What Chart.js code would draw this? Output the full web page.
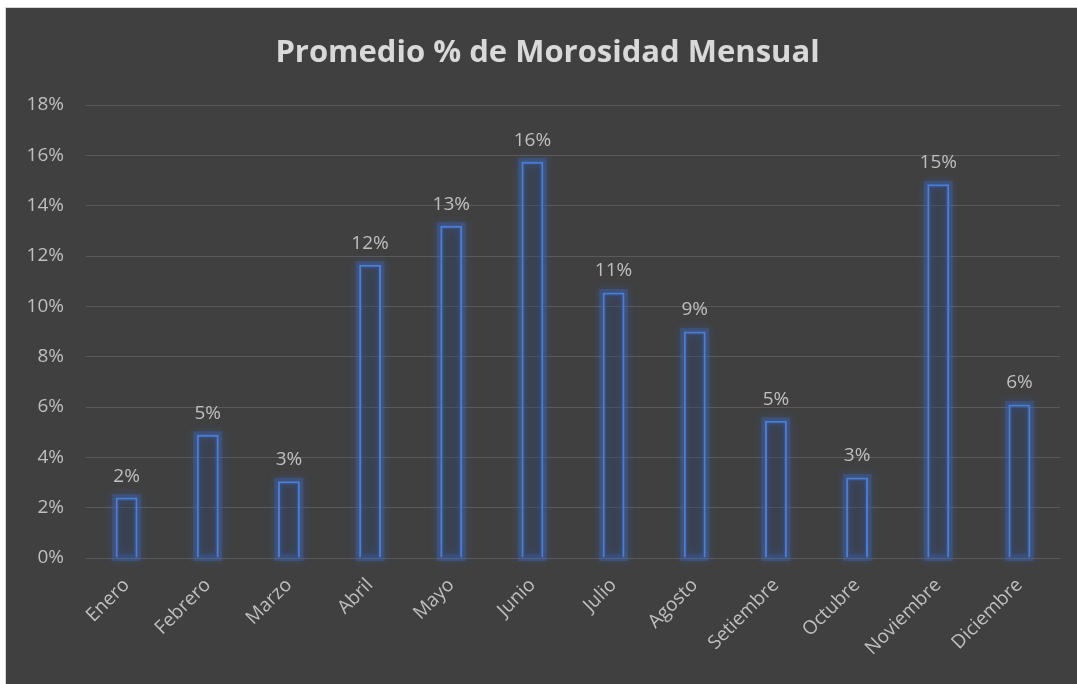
<!DOCTYPE html>
<html>
<head>
<meta charset="utf-8">
<script src="https://cdn.jsdelivr.net/npm/chart.js@4.4.1/dist/chart.umd.min.js"></script>
<style>
  html, body { margin: 0; padding: 0; background: #ffffff; }
  #wrap {
    position: absolute; left: 5px; top: 7px;
    width: 1071px; height: 676px;
    background: #404040;
    border-top: 1px solid #d4d4d4; border-left: 1px solid #d4d4d4;
  }
</style>
</head>
<body>
<div id="wrap"><canvas id="chart"></canvas></div>
<script>
const months = ["Enero", "Febrero", "Marzo", "Abril", "Mayo", "Junio", "Julio",
    "Agosto", "Setiembre", "Octubre", "Noviembre", "Diciembre"];
const morosidad = [2.4, 4.9, 3.05, 11.65, 13.2, 15.75, 10.55, 9.0, 5.45, 3.2, 14.85, 6.1];
const yTicks = [0, 2, 4, 6, 8, 10, 12, 14, 16, 18];
const chartTitle = "Promedio % de Morosidad Mensual";

const textGray = "#bfbfbf";
const fontFamily = "'Open Sans', 'Noto Sans', sans-serif";

// title drawn by hand: Excel centres it on the whole chart, slightly right of the plot centre
const titlePlugin = {
    id: "sheetTitle",
    afterDraw(chart) {
        const ctx = chart.ctx;
        ctx.save();
        ctx.fillStyle = "#d9d9d9";
        ctx.font = "bold 31px " + fontFamily;
        ctx.textAlign = "center";
        ctx.textBaseline = "middle";
        ctx.fillText(chartTitle, chart.width / 2 + 6, 45);
        ctx.restore();
    },
};

// soft blue glow around the bars, drawn from the bar elements themselves
const glowPlugin = {
    id: "glow",
    beforeDatasetsDraw(chart) {
        const ctx = chart.ctx;
        const meta = chart.getDatasetMeta(0);
        ctx.save();
        ctx.shadowColor = "rgba(60, 110, 210, 0.9)";
        ctx.shadowBlur = 9;
        ctx.strokeStyle = "rgba(60, 110, 210, 0.3)";
        ctx.lineWidth = 7;
        meta.data.forEach((bar) => {
            const half = bar.width / 2;
            ctx.strokeRect(bar.x - half, bar.y, bar.width, bar.base - bar.y);
        });
        ctx.restore();
    },
};

// value labels above each bar
const labelPlugin = {
    id: "valueLabels",
    afterDatasetsDraw(chart) {
        const ctx = chart.ctx;
        const meta = chart.getDatasetMeta(0);
        ctx.save();
        ctx.fillStyle = textGray;
        ctx.font = "19px " + fontFamily;
        ctx.textAlign = "center";
        ctx.textBaseline = "bottom";
        meta.data.forEach((bar, i) => {
            const v = chart.data.datasets[0].data[i];
            ctx.fillText(Math.round(v) + "%", bar.x, bar.y - 12);
        });
        ctx.restore();
    },
};

new Chart(document.getElementById("chart"), {
    type: "bar",
    data: {
        labels: months,
        datasets: [{
            data: morosidad,
            backgroundColor: "rgba(50, 70, 110, 0.35)",
            borderColor: "#4a7fd9",
            borderWidth: 2,
            barPercentage: 0.27,
            categoryPercentage: 1.0,
        }],
    },
    options: {
        responsive: true,
        maintainAspectRatio: false,
        animation: false,
        layout: { padding: { left: 0, right: 17, top: 97, bottom: 6 } },
        plugins: {
            legend: { display: false },
            tooltip: { enabled: false },
            title: { display: false },
        },
        scales: {
            x: {
                grid: { display: false, drawTicks: false },
                border: { display: false },
                ticks: {
                    color: textGray,
                    font: { family: fontFamily, size: 19 },
                    minRotation: 45,
                    maxRotation: 45,
                    padding: 16,
                },
                afterFit(scale) { scale.height = 120; },
            },
            y: {
                min: 0,
                max: 18,
                afterBuildTicks(scale) { scale.ticks = yTicks.map((v) => ({ value: v })); },
                grid: { color: "#5a5a5a", lineWidth: 1, drawTicks: false },
                border: { display: false },
                ticks: {
                    color: textGray,
                    font: { family: fontFamily, size: 19 },
                    padding: 22,
                    callback: (v) => v + "%",
                },
                afterFit(scale) { scale.width = 80; },
            },
        },
    },
    plugins: [titlePlugin, glowPlugin, labelPlugin],
});
</script>
</body>
</html>
